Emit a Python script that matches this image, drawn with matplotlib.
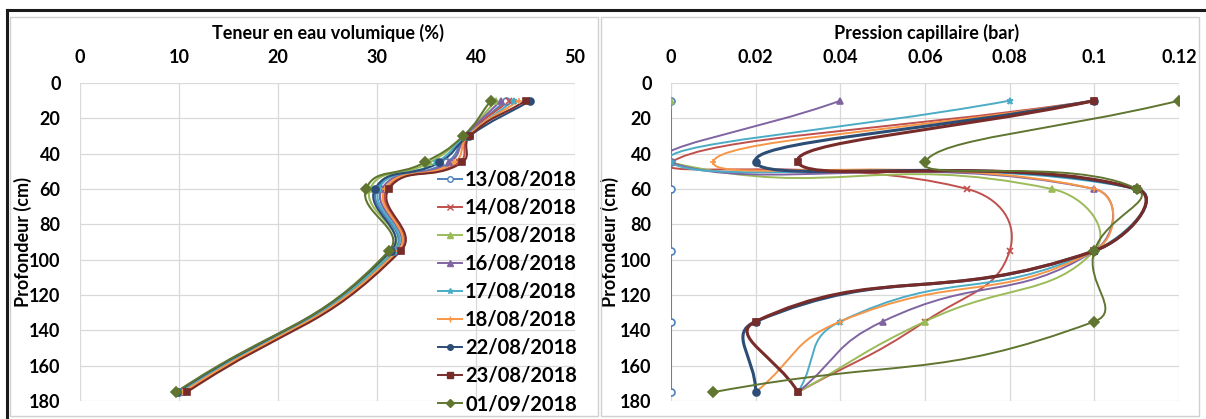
import matplotlib
matplotlib.use("Agg")
import matplotlib.pyplot as plt
import numpy as np
from matplotlib.path import Path
from matplotlib.patches import PathPatch, Rectangle
from matplotlib.lines import Line2D

plt.rcParams['font.family'] = ['Lato', 'DejaVu Sans']
plt.rcParams['font.weight'] = 'bold'

# --- data ---------------------------------------------------------------
dates = ["13/08/2018", "14/08/2018", "15/08/2018", "16/08/2018", "17/08/2018",
         "18/08/2018", "22/08/2018", "23/08/2018", "01/09/2018"]

# water content profile (%)
depth_theta = [10, 30, 45, 60, 95, 175]
theta = {
    "13/08/2018": [43.0, 39.0, 37.0, 30.0, 31.7, 10.0],
    "14/08/2018": [43.3, 39.2, 38.3, 31.0, 32.2, 10.6],
    "15/08/2018": [42.0, 38.8, 35.3, 29.3, 31.5, 9.9],
    "16/08/2018": [42.5, 39.0, 37.3, 30.5, 32.0, 10.3],
    "17/08/2018": [43.8, 39.0, 36.0, 30.2, 31.8, 10.1],
    "18/08/2018": [44.3, 39.2, 37.8, 30.8, 32.1, 10.4],
    "22/08/2018": [45.5, 39.3, 36.3, 29.8, 31.4, 9.8],
    "23/08/2018": [45.0, 39.4, 38.6, 31.2, 32.4, 10.8],
    "01/09/2018": [41.5, 38.7, 34.8, 28.9, 31.2, 9.7],
}

# capillary pressure profile (bar)
depth_pc = [10, 45, 60, 95, 135, 175]
pc = {
    "13/08/2018": [0.0, 0.0, 0.0, 0.0, 0.0, 0.0],
    "14/08/2018": [0.10, 0.0, 0.07, 0.08, 0.06, 0.03],
    "15/08/2018": [0.0, 0.0, 0.09, 0.10, 0.06, 0.03],
    "16/08/2018": [0.04, 0.0, 0.10, 0.10, 0.05, 0.03],
    "17/08/2018": [0.08, 0.0, 0.11, 0.10, 0.04, 0.03],
    "18/08/2018": [0.10, 0.01, 0.10, 0.10, 0.04, 0.02],
    "22/08/2018": [0.10, 0.02, 0.11, 0.10, 0.02, 0.02],
    "23/08/2018": [0.10, 0.03, 0.11, 0.10, 0.02, 0.03],
    "01/09/2018": [0.12, 0.06, 0.11, 0.10, 0.10, 0.01],
}

colors = ["#4F81BD", "#C0504D", "#9BBB59", "#8064A2", "#4BACC6",
          "#F79646", "#2C4D75", "#772C2A", "#5F7530"]
markers = ["o", "x", "^", "^", "*", "+", "o", "s", "D"]


def smooth_path(ax, xs, ys, tension=0.5):
    """Excel-like smoothed line (cubic Bezier built in display space)."""
    pts = ax.transData.transform(np.column_stack([xs, ys]).astype(float))
    n = len(pts)
    verts = [pts[0]]
    codes = [Path.MOVETO]
    for i in range(n - 1):
        p0 = pts[i - 1] if i > 0 else pts[i]
        p1 = pts[i]
        p2 = pts[i + 1]
        p3 = pts[i + 2] if i + 2 < n else pts[i + 1]
        d01 = np.hypot(*(p1 - p0))
        d12 = np.hypot(*(p2 - p1))
        d23 = np.hypot(*(p3 - p2))
        f1 = d12 / (d01 + d12) if d01 + d12 > 0 else 0
        f2 = d12 / (d12 + d23) if d12 + d23 > 0 else 0
        c1 = p1 + (p2 - p0) * f1 * tension
        c2 = p2 - (p3 - p1) * f2 * tension
        verts += [c1, c2, p2]
        codes += [Path.CURVE4] * 3
    verts = ax.transData.inverted().transform(np.array(verts))
    return Path(verts, codes)


def draw_series(ax, xs, ys, color, marker, lw, hollow=False):
    ax.add_patch(PathPatch(smooth_path(ax, xs, ys), facecolor="none",
                           edgecolor=color, lw=lw, zorder=3))
    ax.plot(xs, ys, linestyle="none", marker=marker, ms=5, color=color,
            mfc=("white" if hollow else color), mew=1.2, zorder=4)


def style_axis(ax, xmax, xstep, xlabel, title_x):
    ax.set_yticks(np.arange(0, 181, 20))
    ax.set_xticks(np.arange(0, xmax + xstep / 2, xstep))
    ax.xaxis.tick_top()
    ax.xaxis.set_label_position("top")
    ax.tick_params(length=0, labelsize=13, pad=14)
    ax.tick_params(axis="x", pad=12)
    for s in ax.spines.values():
        s.set_visible(False)
    ax.grid(True, color="#D9D9D9", lw=0.9, zorder=0)
    ax.set_axisbelow(True)
    ax.set_xlabel(xlabel, fontsize=13, fontweight="bold")
    ax.xaxis.set_label_coords(title_x, 1.158)
    ax.xaxis.label.set_va("center")
    ax.set_ylabel("Profondeur (cm)", fontsize=13, fontweight="bold")
    ax.yaxis.label.set_va("center")
    for lab in ax.get_xticklabels() + ax.get_yticklabels():
        lab.set_fontweight("bold")


fig = plt.figure(figsize=(12.06, 4.19), dpi=100)
W, H = 1206, 419

# panel frames and outer border
fig.patches.append(Rectangle((10 / W, 1 - 416 / H), 588 / W, 399 / H,
                             transform=fig.transFigure, fill=False,
                             ec="#D0D0D0", lw=1))
fig.patches.append(Rectangle((601 / W, 1 - 416 / H), 598 / W, 399 / H,
                             transform=fig.transFigure, fill=False,
                             ec="#D0D0D0", lw=1))
fig.lines.append(Line2D([7 / W, 1], [1 - 10 / H, 1 - 10 / H],
                        transform=fig.transFigure, color="#1A1A1A", lw=2.2))
fig.lines.append(Line2D([7 / W, 7 / W], [0, 1 - 10 / H],
                        transform=fig.transFigure, color="#1A1A1A", lw=2.2))

ax1 = fig.add_axes([80 / W, 1 - 401 / H, 495 / W, 318 / H])
ax2 = fig.add_axes([671 / W, 1 - 401 / H, 508 / W, 318 / H])
ax1.set_xlim(0, 50)
ax1.set_ylim(180, 0)
ax2.set_xlim(0, 0.12)
ax2.set_ylim(180, 0)

for i, (d, c, m) in enumerate(zip(dates, colors, markers)):
    draw_series(ax1, theta[d], depth_theta, c, m, 1.5, hollow=(i == 0))
    lw = 2.2 if d in ("22/08/2018", "23/08/2018") else 1.4
    draw_series(ax2, pc[d], depth_pc, c, m, lw, hollow=(i == 0))

style_axis(ax1, 50, 10, "Teneur en eau volumique (%)", 0.50)
ax1.yaxis.set_label_coords(-0.115, 0.5)

style_axis(ax2, 0.12, 0.02, "Pression capillaire (bar)", 0.504)
ax2.set_xticklabels(["0", "0.02", "0.04", "0.06", "0.08", "0.1", "0.12"])
ax2.yaxis.set_label_coords(-0.12, 0.5)

handles = [Line2D([], [], color=c, marker=m, ms=4, lw=1.4,
                  mfc=("white" if i == 0 else c))
           for i, (c, m) in enumerate(zip(colors, markers))]
leg = fig.legend(handles, dates, loc="lower right",
                 bbox_to_anchor=(577 / W, 1 - 414 / H), frameon=False,
                 prop={"size": 14.5, "weight": "bold"}, handlelength=1.2,
                 handletextpad=0.15, labelspacing=0.40, borderpad=0,
                 borderaxespad=0)

fig.savefig("out.png", dpi=100)
